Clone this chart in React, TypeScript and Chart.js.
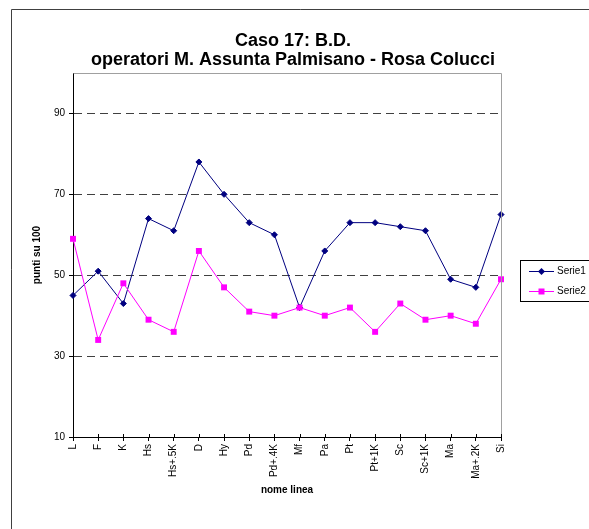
import React, { useEffect, useRef } from "react";
import { Chart, registerables } from "chart.js";

Chart.register(...registerables);

const categories = ["L", "F", "K", "Hs", "Hs+.5K", "D", "Hy", "Pd", "Pd+.4K", "Mf", "Pa", "Pt", "Pt+1K", "Sc", "Sc+1K", "Ma", "Ma+.2K", "Si"];
const serie1 = [45, 51, 43, 64, 61, 78, 70, 63, 60, 42, 56, 63, 63, 62, 61, 49, 47, 65];
const serie2 = [59, 34, 48, 39, 36, 56, 47, 41, 40, 42, 40, 42, 36, 43, 39, 40, 38, 49];
const seriesNames = ["Serie1", "Serie2"];
const seriesColors = ["#000080", "#FF00FF"];
const titleLines = ["Caso 17: B.D.", "operatori M. Assunta Palmisano - Rosa Colucci"];
const yTitle = "punti su 100";
const xTitle = "nome linea";
const yMin = 10;
const yMax = 100;
const yTickValues = [10, 30, 50, 70, 90];

const FONT = "'Liberation Sans', Arial, Helvetica, sans-serif";

const W = 589;
const H = 529;

const decorations = {
  id: "decorations",
  beforeDraw(chart: any) {
    const ctx = chart.ctx;
    ctx.save();
    ctx.fillStyle = "#ffffff";
    ctx.fillRect(0, 0, W, H);
    ctx.strokeStyle = "#404040";
    ctx.lineWidth = 1;
    ctx.beginPath();
    ctx.moveTo(11.5, H + 2);
    ctx.lineTo(11.5, 9.5);
    ctx.lineTo(W + 2, 9.5);
    ctx.stroke();
    ctx.restore();
  },
  afterDraw(chart: any) {
    const ctx = chart.ctx;
    const area = chart.chartArea;
    ctx.save();
    ctx.strokeStyle = "#a0a0a0";
    ctx.lineWidth = 1;
    ctx.beginPath();
    ctx.moveTo(Math.round(area.left) + 0.5, Math.round(area.top) + 0.5);
    ctx.lineTo(Math.round(area.right) + 0.5, Math.round(area.top) + 0.5);
    ctx.lineTo(Math.round(area.right) + 0.5, Math.round(area.bottom));
    ctx.stroke();

    const xs = chart.scales.x;
    ctx.strokeStyle = "#000";
    ctx.beginPath();
    for (let i = 0; i < categories.length; i++) {
      const px = Math.round(xs.getPixelForValue(i)) + 0.5;
      ctx.moveTo(px, Math.round(area.bottom) - 3);
      ctx.lineTo(px, Math.round(area.bottom));
    }
    ctx.stroke();

    ctx.fillStyle = "#000";
    ctx.textAlign = "center";
    ctx.textBaseline = "alphabetic";
    ctx.font = `bold 18px ${FONT}`;
    ctx.fillText(titleLines[0], 293, 46);
    ctx.fillText(titleLines[1], 293, 65);

    ctx.font = `bold 10px ${FONT}`;
    ctx.textBaseline = "middle";
    ctx.fillText(xTitle, (area.left + area.right) / 2, 490);
    ctx.save();
    ctx.translate(37, (area.top + area.bottom) / 2);
    ctx.rotate(-Math.PI / 2);
    ctx.fillText(yTitle, 0, 0);
    ctx.restore();

    ctx.strokeStyle = "#000";
    ctx.lineWidth = 1;
    ctx.strokeRect(520.5, 260.5, 100, 41);
    const rows = [271, 291];
    ctx.font = `10px ${FONT}`;
    ctx.textAlign = "left";
    ctx.textBaseline = "middle";
    for (let i = 0; i < seriesNames.length; i++) {
      const y = rows[i];
      ctx.strokeStyle = seriesColors[i];
      ctx.fillStyle = seriesColors[i];
      ctx.beginPath();
      ctx.moveTo(529, y + 0.5);
      ctx.lineTo(554, y + 0.5);
      ctx.stroke();
      const cx = 541.5;
      if (i === 0) {
        const r = 3.5;
        ctx.beginPath();
        ctx.moveTo(cx - r, y + 0.5);
        ctx.lineTo(cx, y + 0.5 - r);
        ctx.lineTo(cx + r, y + 0.5);
        ctx.lineTo(cx, y + 0.5 + r);
        ctx.closePath();
        ctx.fill();
      } else {
        ctx.fillRect(cx - 3, y + 0.5 - 3, 6, 6);
      }
      ctx.fillStyle = "#000";
      ctx.fillText(seriesNames[i], 557, y + 0.5);
    }
    ctx.restore();
  },
};

export default function App() {
  const ref = useRef<HTMLCanvasElement | null>(null);

  useEffect(() => {
    if (!ref.current) return;
    const chart = new Chart(ref.current, {
      type: "line",
      data: {
        labels: categories,
        datasets: [
          {
            label: seriesNames[0],
            data: serie1,
            borderColor: seriesColors[0],
            backgroundColor: seriesColors[0],
            borderWidth: 1,
            pointStyle: "rectRot",
            pointRadius: 3,
            pointBorderWidth: 1,
            pointBackgroundColor: seriesColors[0],
            pointBorderColor: seriesColors[0],
            tension: 0,
            fill: false,
            order: 1,
          },
          {
            label: seriesNames[1],
            data: serie2,
            borderColor: seriesColors[1],
            backgroundColor: seriesColors[1],
            borderWidth: 1,
            pointStyle: "rect",
            pointRadius: 4.2,
            pointBorderWidth: 0,
            pointBackgroundColor: seriesColors[1],
            tension: 0,
            fill: false,
            order: 0,
          },
        ],
      },
      options: {
        responsive: false,
        animation: false,
        devicePixelRatio: 1,
        clip: false as any,
        layout: { padding: { top: 73, right: 88, left: 0, bottom: 0 } },
        plugins: {
          legend: { display: false },
          title: { display: false },
          tooltip: { enabled: false },
        },
        scales: {
          x: {
            type: "category",
            offset: false,
            grid: {
              display: true,
              drawOnChartArea: false,
              drawTicks: true,
              tickLength: 4,
              color: "#000",
              tickColor: "#000",
            },
            border: { display: true, color: "#000", width: 1 },
            ticks: {
              autoSkip: false,
              maxRotation: 90,
              minRotation: 90,
              padding: 3,
              color: "#000",
              font: { family: FONT, size: 10 },
            },
            afterFit: (s: any) => {
              s.height = H - 437;
            },
          },
          y: {
            type: "linear",
            min: yMin,
            max: yMax,
            ticks: {
              padding: 4,
              color: "#000",
              font: { family: FONT, size: 10 },
            },
            afterBuildTicks: (s: any) => {
              s.ticks = yTickValues.map((v) => ({ value: v }));
            },
            grid: {
              color: (c: any) => (c.tick && c.tick.value === yMin ? "rgba(0,0,0,0)" : "#404040"),
              tickColor: "#000",
              tickLength: 4,
              lineWidth: 1,
            },
            border: { display: true, color: "#000", width: 1, dash: [8, 5] },
            afterFit: (s: any) => {
              s.width = 73;
            },
          },
        },
      },
      plugins: [decorations],
    });
    return () => chart.destroy();
  }, []);

  return (
    <canvas
      ref={ref}
      width={W}
      height={H}
      style={{ position: "fixed", left: 0, top: 0, width: W, height: H, display: "block" }}
    />
  );
}
